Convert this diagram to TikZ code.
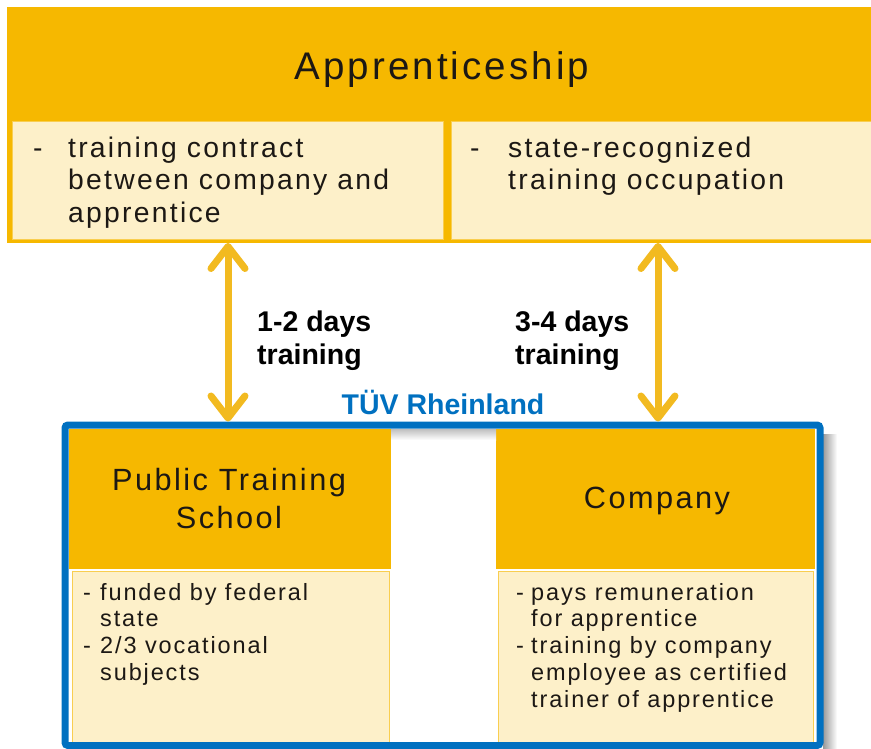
\documentclass[tikz,border=0pt]{standalone}
\usepackage{fontspec}
\setmainfont{Liberation Sans}
\newfontfamily\boxfont[LetterSpace=8]{Liberation Sans}
\usetikzlibrary{arrows.meta}

\definecolor{gold}{RGB}{246,184,0}
\definecolor{cream}{RGB}{253,240,201}
\definecolor{arrowgold}{RGB}{242,186,32}
\definecolor{tuvblue}{RGB}{0,112,192}
\definecolor{ink}{RGB}{28,24,20}

\begin{document}
\begin{tikzpicture}[x=1pt,y=-1pt,
  creambox/.style={fill=cream,draw=gold!60!cream,line width=1pt},
  boxtext/.style 2 args={inner sep=0pt,text=ink,font=\boxfont\fontsize{#1}{#2}\selectfont},
  daylabel/.style={inner sep=0pt,anchor=north west,font=\bfseries\fontsize{28.5}{33}\selectfont},
  linkarrow/.style={draw=arrowgold,line width=7pt,>={Straight Barb[length=22pt,width=34pt,round]},<->}]
  \useasboundingbox (0,0) rectangle (871,749);

  % Apprenticeship block
  \fill[gold] (7,7) rectangle (871,243);
  \filldraw[creambox] (12,122) rectangle (443,240);
  \filldraw[creambox] (451,122) rectangle (871,240);
  \node[boxtext={38.5}{44},anchor=base] (title) at (442,80) {Apprenticeship};
  \node[boxtext={28.3}{32.5},anchor=north west] (contract) at (33,134.25)
    {\begin{tabular}{@{}p{35pt}@{}l@{}}-&training contract\\&between company and\\&apprentice\end{tabular}};
  \node[boxtext={28.3}{32.5},anchor=north west] (occupation) at (470,134.25)
    {\begin{tabular}{@{}p{38pt}@{}l@{}}-&state-recognized\\&training occupation\end{tabular}};

  % TUEV frame with school and company
  \shade[left color=black!40,right color=white] (823,434) rectangle (837,749);
  \fill[gold] (69,429) rectangle (391,569);
  \filldraw[creambox] (72,571) rectangle (389,742);
  \fill[gold] (496,429) rectangle (815,569);
  \filldraw[creambox] (498,571) rectangle (813,742);
  \shade[top color=black!25,bottom color=white] (391,429) rectangle (496,440);
  \draw[tuvblue,line width=7pt,rounded corners=3pt] (65,425) rectangle (820,745.5);

  \node[boxtext={30.7}{38},anchor=north] (school) at (229,463.4)
    {\begin{tabular}{@{}c@{}}Public Training\\School\end{tabular}};
  \node[boxtext={30.7}{38},anchor=base] (company) at (657,508) {Company};
  \node[boxtext={23.5}{26.75},anchor=north west] (funded) at (83,581.3)
    {\begin{tabular}{@{}p{17pt}@{}l@{}}-&funded by federal\\&state\\-&2/3 vocational\\&subjects\end{tabular}};
  \node[boxtext={23.5}{26.75},anchor=north west] (pays) at (516,581.3)
    {\begin{tabular}{@{}p{15pt}@{}l@{}}-&pays remuneration\\&for apprentice\\-&training by company\\&employee as certified\\&trainer of apprentice\end{tabular}};

  % training days
  \coordinate (l1) at (228,243);
  \coordinate (l2) at (228,421.5);
  \coordinate (r1) at (658,243);
  \coordinate (r2) at (658,421.5);
  \draw[linkarrow] (l1) -- (l2);
  \draw[linkarrow] (r1) -- (r2);

  \node[daylabel] (d12) at (257,307.9) {\begin{tabular}{@{}l@{}}1-2 days\\training\end{tabular}};
  \node[daylabel] (d34) at (515,307.9) {\begin{tabular}{@{}l@{}}3-4 days\\training\end{tabular}};
  \node[inner sep=0pt,anchor=base,text=tuvblue,font=\bfseries\fontsize{28.5}{33}\selectfont] (tuv) at (443,414) {TÜV Rheinland};
\end{tikzpicture}
\end{document}
